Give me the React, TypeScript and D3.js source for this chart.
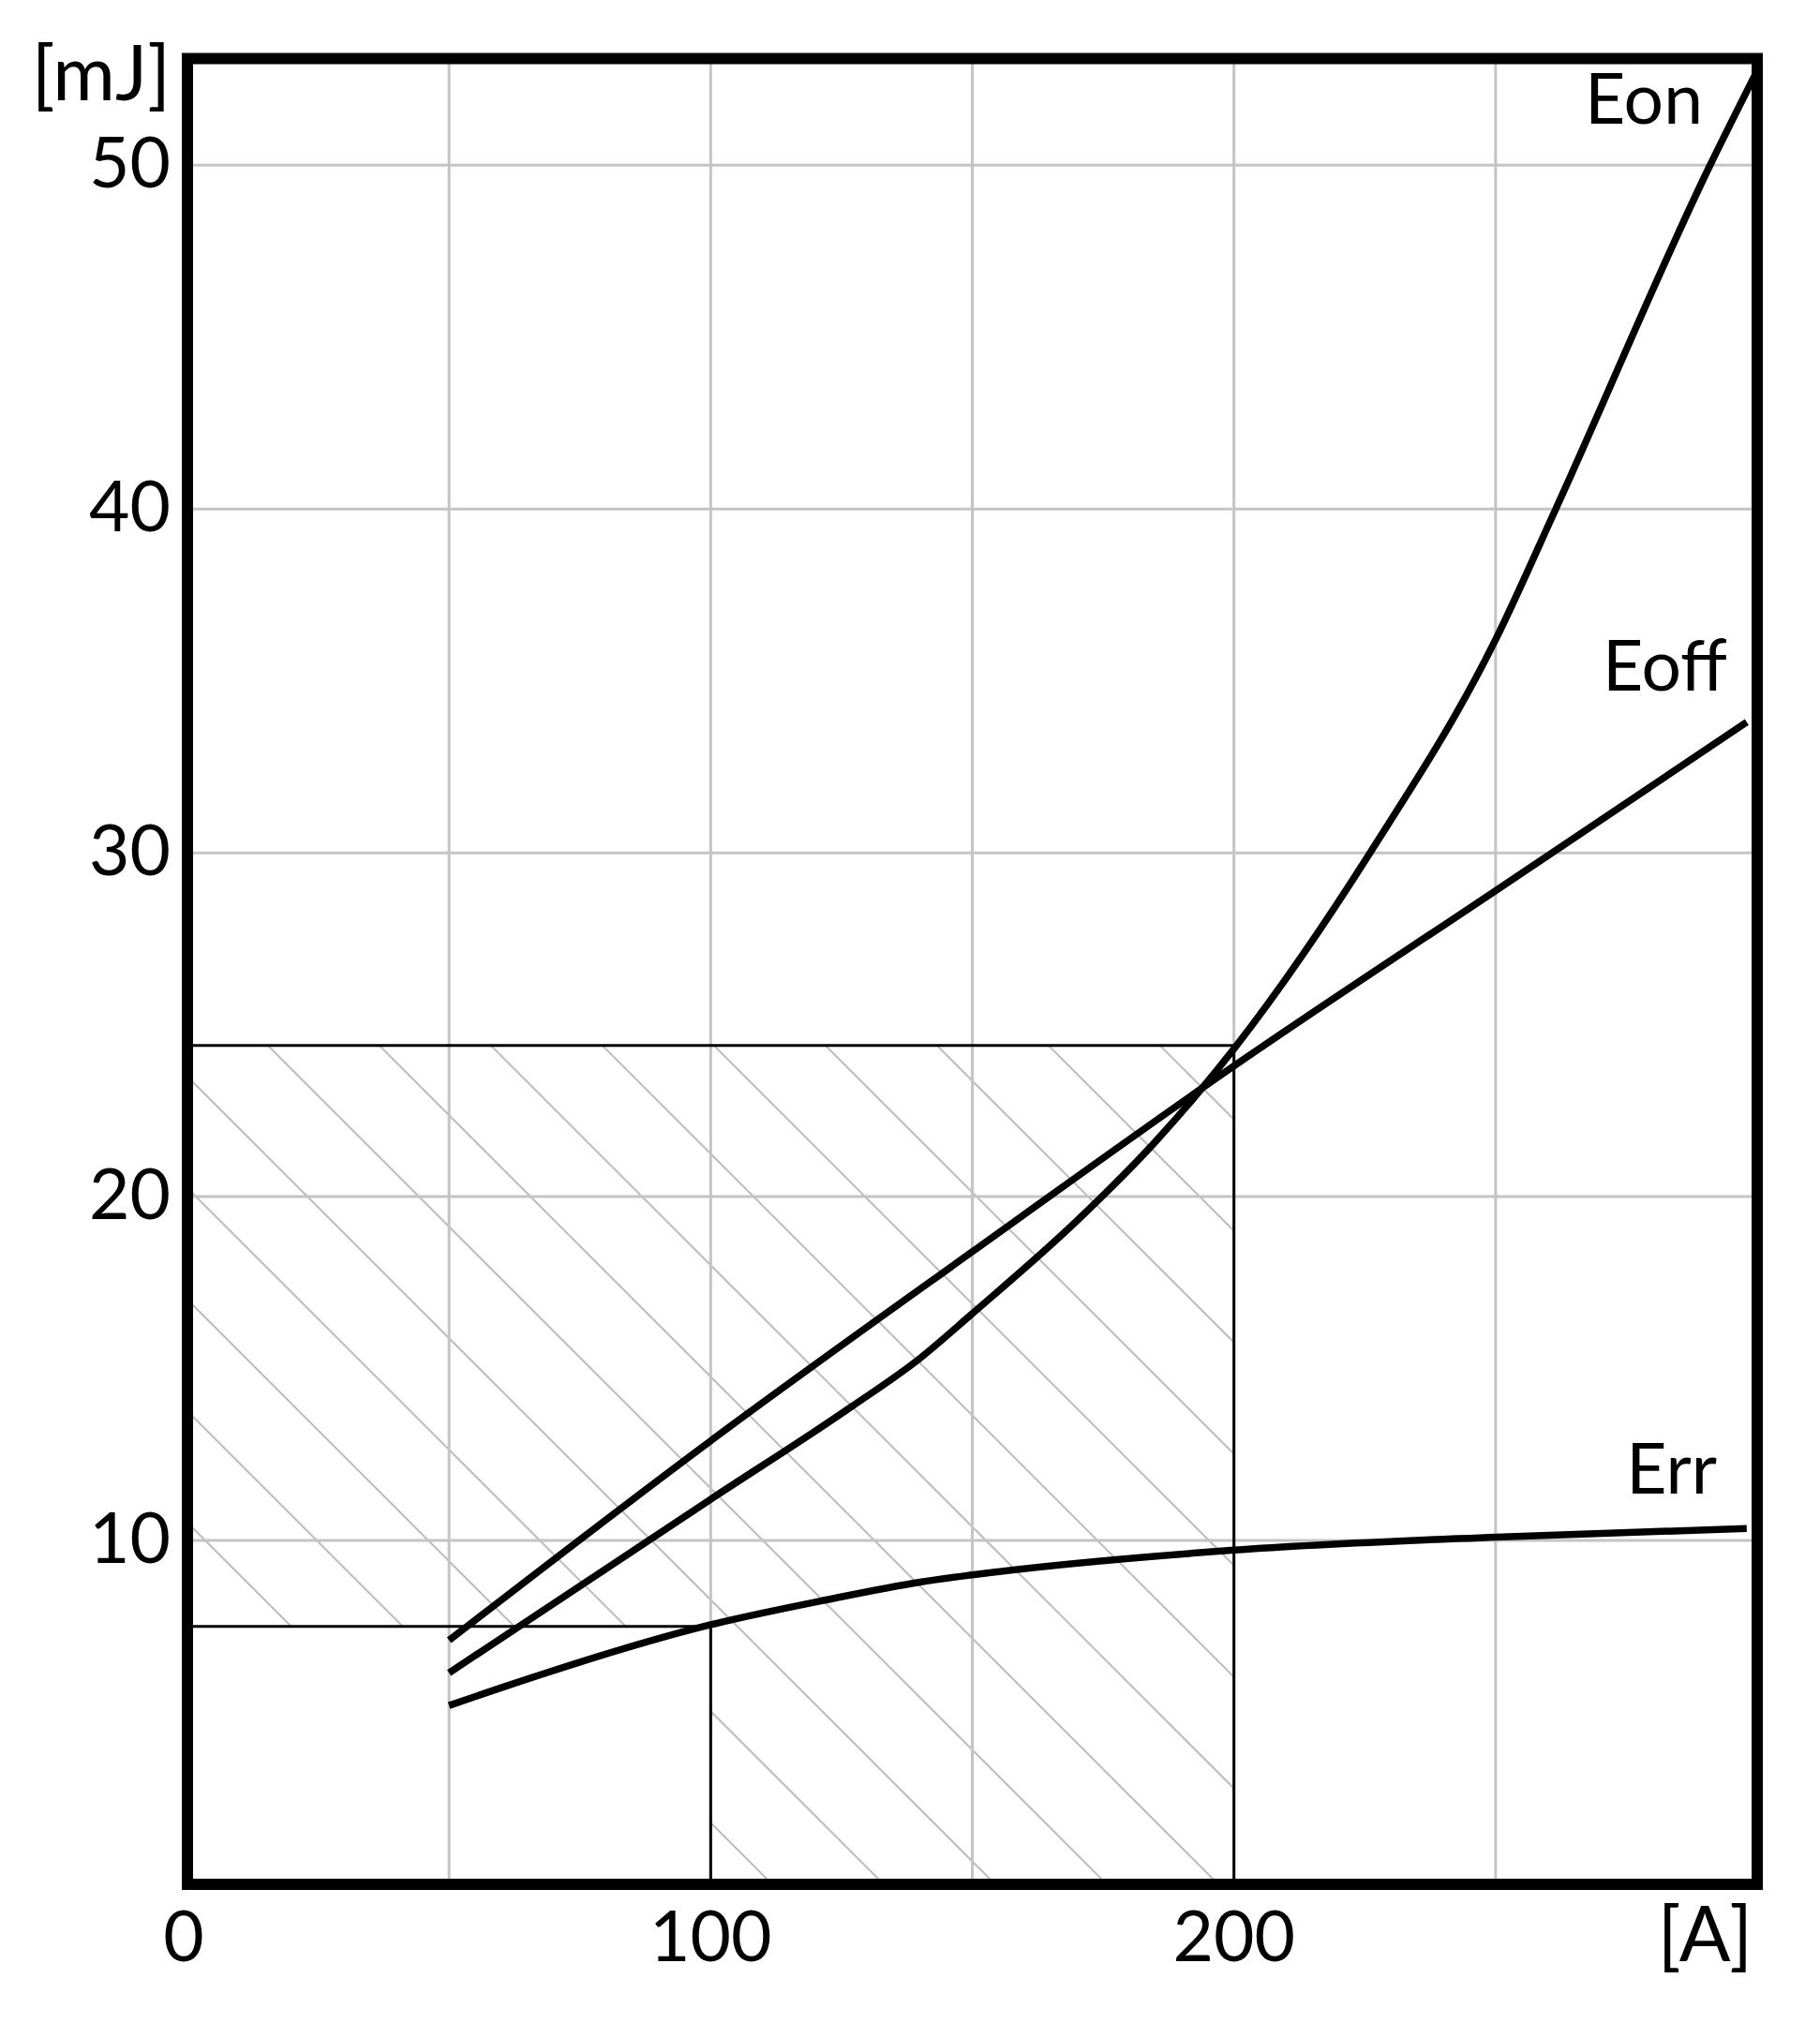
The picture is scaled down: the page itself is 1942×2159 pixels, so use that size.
import React from 'react';
import * as d3 from 'd3';

const W = 1942;
const H = 2159;

// axis ticks and grid
const X_TICKS = [0, 100, 200];
const Y_TICKS = [10, 20, 30, 40, 50];
const GRID_X = [50, 100, 150, 200, 250];
const GRID_Y = [10, 20, 30, 40, 50];
const X_UNIT = '[A]';
const Y_UNIT = '[mJ]';

// curves (current A -> energy mJ)
const EON_I = [50, 100, 127, 140, 150, 170, 185, 200, 226, 250, 261.5, 291, 299.5];
const EON_E = [6.15, 11.2, 13.9, 15.3, 16.6, 19.3, 21.6, 24.3, 30.0, 36.2, 40.0, 50.0, 52.6];
const EOFF_I = [50, 100, 150, 200, 250, 298];
const EOFF_E = [7.1, 12.9, 18.4, 23.8, 28.9, 33.8];
const ERR_I = [50, 60, 100, 122, 140, 150, 200, 250, 298];
const ERR_E = [5.2, 5.72, 7.55, 8.27, 8.79, 9.0, 9.72, 10.1, 10.35];

const SERIES = [
  { name: 'Eon', I: EON_I, E: EON_E },
  { name: 'Eoff', I: EOFF_I, E: EOFF_E },
  { name: 'Err', I: ERR_I, E: ERR_E },
];

// operating points marked with thin lines
const OP_HI = { i: 200, e: 24.4 };
const OP_LO = { i: 100, e: 7.5 };

const FONT = 'Lato, "Open Sans", sans-serif';
const FS = 75;
const GRID_C = '#c4c4c4';
const HATCH_C = '#bdbdbd';
const HATCH_STEP = 119;
const HATCH_PHASE = -830;

export default function App() {
  const x = d3.scaleLinear().domain([0, 300]).range([200, 1875]);
  const y = d3.scaleLinear().domain([0, 53.1]).range([2011, 62.5]);
  const [x0, x1] = x.range();
  const [y0, y1] = y.range();

  const line = d3.line<[number, number]>()
    .x(d => x(d[0]))
    .y(d => y(d[1]))
    .curve(d3.curveMonotoneX);

  // L-shaped hatched region: below the high point, minus the box under the low point
  const hatchPoly: [number, number][] = [
    [0, OP_LO.e], [0, OP_HI.e], [OP_HI.i, OP_HI.e], [OP_HI.i, 0], [OP_LO.i, 0], [OP_LO.i, OP_LO.e],
  ];
  const hatchPath = 'M' + hatchPoly.map(p => `${x(p[0])},${y(p[1])}`).join('L') + 'Z';

  const kMin = Math.floor((x0 - y0 - HATCH_PHASE) / HATCH_STEP) - 1;
  const kMax = Math.ceil((x(OP_HI.i) - y(OP_HI.e) - HATCH_PHASE) / HATCH_STEP) + 1;
  const hatch = d3.range(kMin, kMax + 1).map(k => HATCH_PHASE + k * HATCH_STEP);

  const labelPos: Record<string, { x: number; y: number }> = {
    Eon: { x: 1817, y: 132 },
    Eoff: { x: 1843, y: 737 },
    Err: { x: 1832, y: 1594 },
  };

  return (
    <svg width={W} height={H} style={{ position: 'absolute', left: 0, top: 0, display: 'block', background: '#fff' }}>
      <defs>
        <clipPath id="hatch-clip">
          <path d={hatchPath} />
        </clipPath>
      </defs>

      {/* hatching */}
      <g clipPath="url(#hatch-clip)" stroke={HATCH_C} strokeWidth={2}>
        {hatch.map(c => (
          <line key={c} x1={c + y1} y1={y1} x2={c + y0} y2={y0} />
        ))}
      </g>

      {/* grid */}
      <g stroke={GRID_C} strokeWidth={3}>
        {GRID_X.map(v => <line key={'gx' + v} x1={x(v)} x2={x(v)} y1={y1} y2={y0} />)}
        {GRID_Y.map(v => <line key={'gy' + v} x1={x0} x2={x1} y1={y(v)} y2={y(v)} />)}
      </g>

      {/* operating point lines */}
      <g stroke="#000" strokeWidth={3} fill="none">
        <path d={`M${x(0)},${y(OP_HI.e)}H${x(OP_HI.i)}V${y(0)}`} />
        <path d={`M${x(0)},${y(OP_LO.e)}H${x(OP_LO.i)}V${y(0)}`} />
      </g>

      {/* curves */}
      <g stroke="#000" strokeWidth={7.5} fill="none" strokeLinecap="butt">
        {SERIES.map(s => (
          <path key={s.name} d={line(s.I.map((v, i) => [v, s.E[i]] as [number, number])) || ''} />
        ))}
      </g>

      {/* frame */}
      <rect x={x0} y={y1} width={x1 - x0} height={y0 - y1} fill="none" stroke="#000" strokeWidth={12} />

      {/* labels */}
      <g fontFamily={FONT} fontSize={FS} fill="#000">
        {Y_TICKS.map(v => (
          <text key={'yt' + v} x={182} y={y(v) + 24} textAnchor="end">{v}</text>
        ))}
        <text x={182} y={107} textAnchor="end" fontSize={81}>{Y_UNIT}</text>
        {X_TICKS.map(v => (
          <text key={'xt' + v} x={x(v) - (v === 0 ? 4 : 0)} y={2093} textAnchor="middle">{v}</text>
        ))}
        <text x={1870} y={2093} textAnchor="end" fontSize={81}>{X_UNIT}</text>
        {SERIES.map(s => (
          <text key={'l' + s.name} x={labelPos[s.name].x} y={labelPos[s.name].y} textAnchor="end">{s.name}</text>
        ))}
      </g>
    </svg>
  );
}
